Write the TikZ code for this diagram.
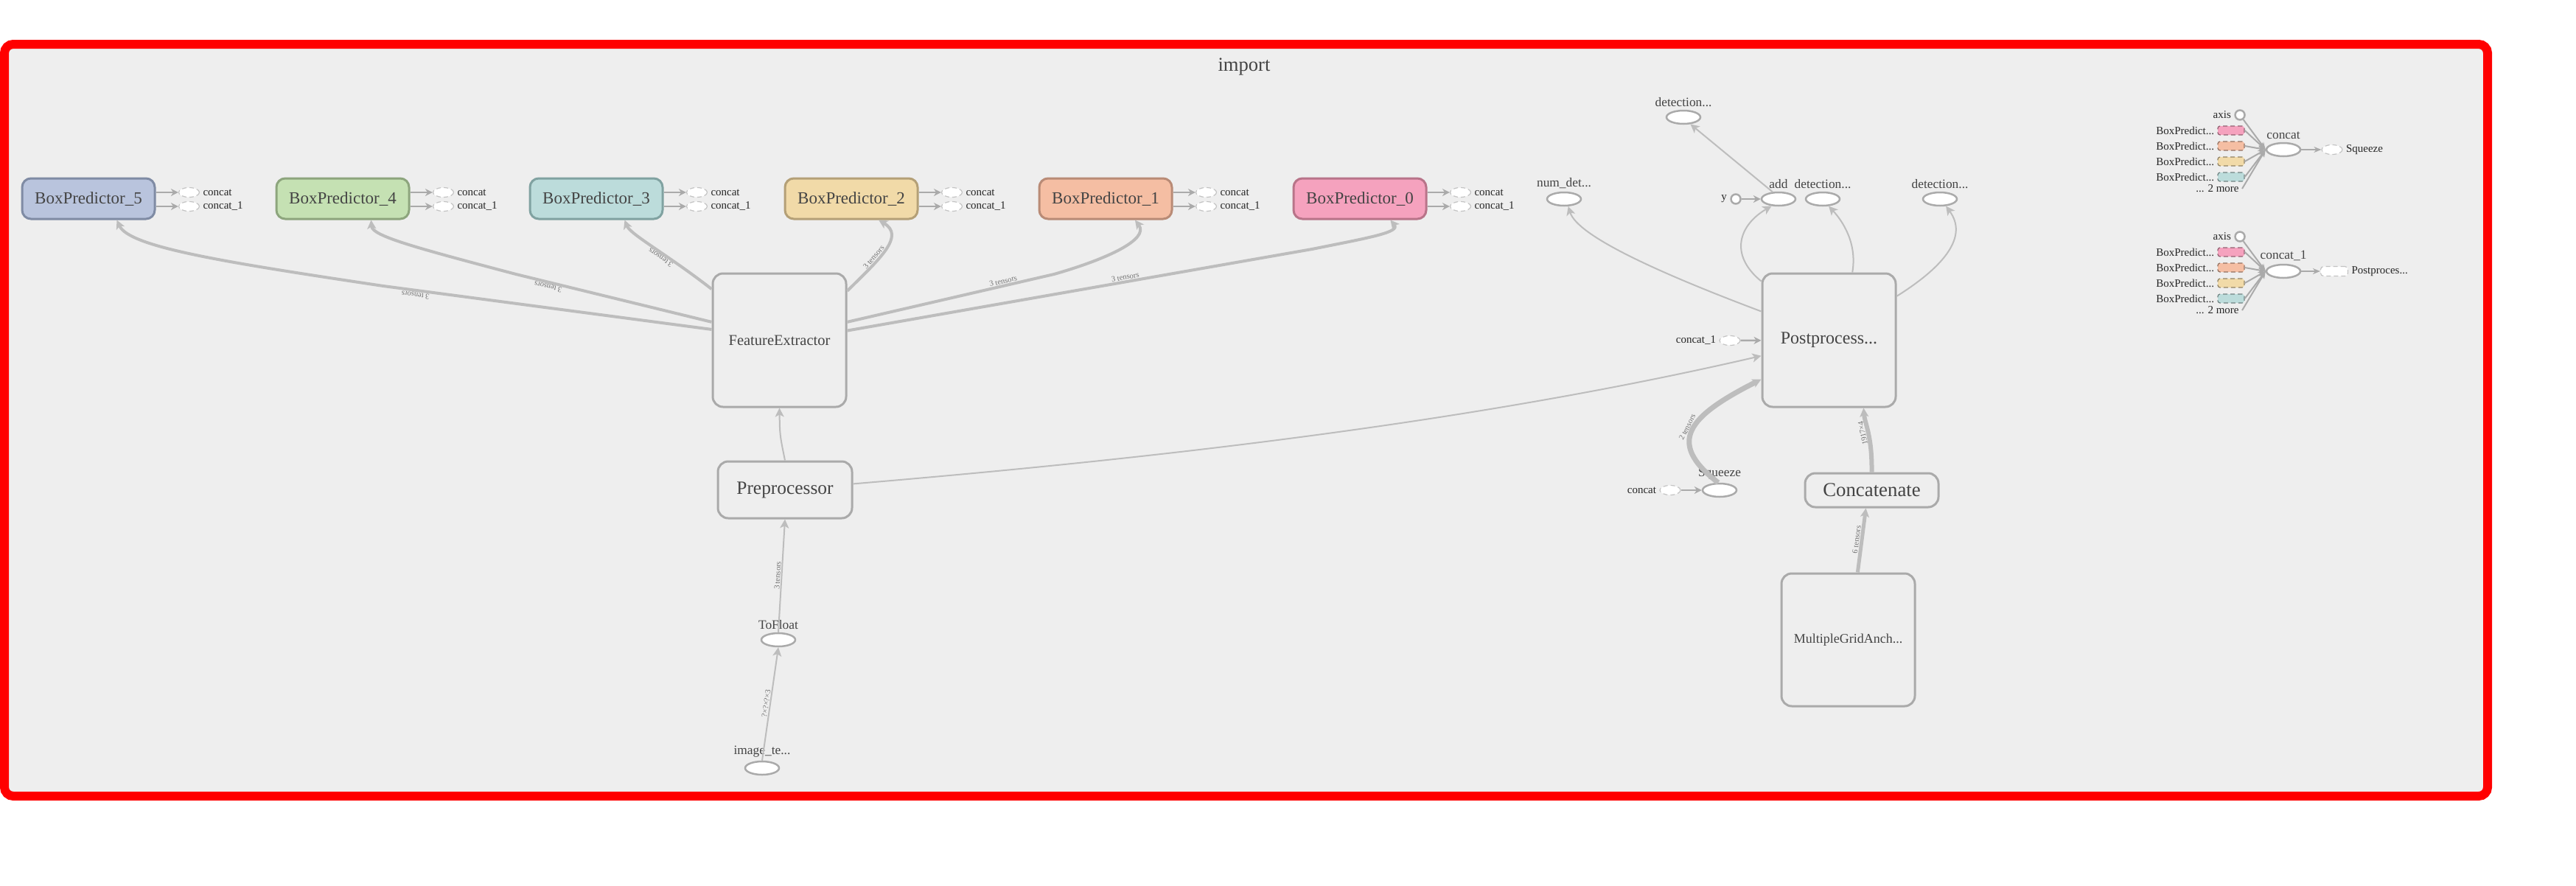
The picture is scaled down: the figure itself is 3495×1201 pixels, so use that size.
\documentclass[tikz,border=0pt]{standalone}
\usepackage{fontspec}
\setmainfont{Liberation Serif}
\usepackage{xcolor}
\usepackage{tikz}
\usetikzlibrary{calc, arrows.meta, shapes.geometric}
\definecolor{frameRed}{HTML}{FF0000}
\definecolor{panelGray}{HTML}{EEEEEE}
\definecolor{boxLine}{HTML}{AAAAAA}
\definecolor{edgeGray}{HTML}{BDBDBD}
\definecolor{labelGray}{HTML}{444444}
\definecolor{bp5Fill}{HTML}{B9C4DD}
\definecolor{bp5Line}{HTML}{7F8BA4}
\definecolor{bp4Fill}{HTML}{C5E1B3}
\definecolor{bp4Line}{HTML}{8DA57D}
\definecolor{bp3Fill}{HTML}{BCDCDB}
\definecolor{bp3Line}{HTML}{80A2A1}
\definecolor{bp2Fill}{HTML}{F1DAA8}
\definecolor{bp2Line}{HTML}{B4A077}
\definecolor{bp1Fill}{HTML}{F5BEA3}
\definecolor{bp1Line}{HTML}{B98B76}
\definecolor{bp0Fill}{HTML}{F5A2BE}
\definecolor{bp0Line}{HTML}{B87489}

\begin{document}
\begin{tikzpicture}[x=0.5pt, y=-0.5pt,
    box/.style={draw=boxLine, line width=1.5pt, fill=panelGray, rounded corners=7pt, text=labelGray, inner sep=2pt},
    bpbox/.style={box, rounded corners=6pt, minimum width=90pt, minimum height=27.5pt, font=\fontsize{11.5}{13}\selectfont},
    op/.style={ellipse, draw=boxLine, line width=1.25pt, fill=white, minimum width=23pt, minimum height=9pt, inner sep=0pt, label distance=1.5pt},
    port/.style={circle, draw=boxLine, line width=1.25pt, fill=white, minimum size=6.5pt, inner sep=0pt},
    stub/.style={ellipse, draw=boxLine!70, densely dashed, line width=0.6pt, fill=white, minimum width=14pt, minimum height=6.5pt, inner sep=0pt},
    stubrect/.style={stub, rectangle, rounded corners=2pt, minimum width=18.5pt},
    inrect/.style={rectangle, rounded corners=1.5pt, densely dashed, line width=0.6pt, minimum width=18pt, minimum height=6pt, inner sep=0pt},
    optxt/.style={font=\fontsize{8.7}{10}\selectfont, text=labelGray, inner sep=2pt},
    smalltxt/.style={font=\fontsize{7.5}{9}\selectfont, text=black!85, inner sep=2pt},
    thinedge/.style={draw=edgeGray, line width=1pt, -{Stealth[length=6pt, width=6pt, inset=1.5pt]}},
    thickedge/.style={thinedge, line width=2pt},
    stubedge/.style={draw=boxLine, line width=1.25pt, -{Stealth[length=5pt, width=5pt]}},
    paneledge/.style={draw=boxLine, line width=1pt, -{Stealth[length=5pt, width=4pt]}},
    elabel/.style={font=\fontsize{5.3}{6}\selectfont, text=black!55, sloped, allow upside down, above, inner sep=0.5pt}]
    \useasboundingbox (0,0) rectangle (3495,1201);
    \fill[white] (0,0) rectangle (3495,1201);
    \draw[frameRed, line width=6pt, fill=panelGray, rounded corners=6pt] (6,60) rectangle (3375,1080);
    \node[font=\fontsize{13.3}{15}\selectfont, text=labelGray] (title) at (1688,91) {import};

    % box predictors
    \node[bpbox, fill=bp5Fill, draw=bp5Line] (bp5) at (120,269.5) {BoxPredictor\_5};
    \node[bpbox, fill=bp4Fill, draw=bp4Line] (bp4) at (465,269.5) {BoxPredictor\_4};
    \node[bpbox, fill=bp3Fill, draw=bp3Line] (bp3) at (809,269.5) {BoxPredictor\_3};
    \node[bpbox, fill=bp2Fill, draw=bp2Line] (bp2) at (1155,269.5) {BoxPredictor\_2};
    \node[bpbox, fill=bp1Fill, draw=bp1Line] (bp1) at (1500,269.5) {BoxPredictor\_1};
    \node[bpbox, fill=bp0Fill, draw=bp0Line] (bp0) at (1845,269.5) {BoxPredictor\_0};
    \foreach \i in {0,...,5}{
        \node[stub, label={[smalltxt]right:concat}] (cat\i) at ($(bp\i.east)+(45,-8.5)$) {};
        \node[stub, label={[smalltxt]right:concat\_1}] (catb\i) at ($(bp\i.east)+(45,10.5)$) {};
        \draw[stubedge] (bp\i.east |- cat\i) -- (cat\i);
        \draw[stubedge] (bp\i.east |- catb\i) -- (catb\i);
    }

    % main chain
    \node[box, minimum width=90.5pt, minimum height=90.5pt, font=\fontsize{10.25}{12}\selectfont] (fe) at (1057.5,461.5) {FeatureExtractor};
    \node[box, minimum width=91pt, minimum height=38.5pt, font=\fontsize{12.7}{14}\selectfont] (pre) at (1065,664.5) {Preprocessor};
    \node[op, label={[optxt]above:ToFloat}] (tf) at (1056,868) {};
    \node[op, label={[optxt]above:image\_te...}] (img) at (1034,1042) {};
    \node[box, minimum width=90.5pt, minimum height=90.5pt, font=\fontsize{12}{14}\selectfont] (post) at (2481.5,461.5) {Postprocess...};
    \node[box, minimum width=90.5pt, minimum height=23pt, font=\fontsize{13.4}{15}\selectfont] (cat) at (2539.5,665) {Concatenate};
    \node[box, minimum width=90.5pt, minimum height=90pt, font=\fontsize{9}{11}\selectfont] (mga) at (2507.5,868) {MultipleGridAnch...};
    \node[op, label={[optxt]above:Squeeze}] (sq) at (2333,665) {};
    \node[stub, label={[smalltxt]left:concat}] (sqc) at (2266,665) {};
    \node[stub, label={[smalltxt]left:concat\_1}] (pc1) at (2347,462) {};

    % outputs
    \node[op, label={[optxt]above:num\_det...}] (nd) at (2122,270) {};
    \node[op, label={[optxt]above:detection...}] (dt) at (2284,159) {};
    \node[op, label={[optxt]above:add}] (add) at (2413,270) {};
    \node[port, label={[smalltxt]left:y}] (yc) at (2355,270) {};
    \node[op, label={[optxt]above:detection...}] (dm) at (2473,270) {};
    \node[op, label={[optxt]above:detection...}] (dr) at (2632,270) {};

    \draw[thickedge] (fe.171) -- node[elabel, pos=0.9] {3 tensors} (520,388) .. controls (300,355) and (175,335) .. (bp5.-37);
    \draw[thickedge] (fe.165) -- node[elabel, pos=0.83] {3 tensors} (700,372) .. controls (560,335) and (505,320) .. (bp4.-37);
    \draw[thickedge] (fe.143) .. controls (905,345) and (855,318) .. node[elabel, pos=0.4] {3 tensors} (bp3.-37);
    \draw[thickedge] (fe.36) .. controls (1195,350) and (1228,320) .. node[elabel, pos=0.35] {3 tensors} (bp2.-38);
    \draw[thickedge] (fe.15) -- node[elabel, pos=0.76] {3 tensors} (1430,372) .. controls (1500,352) and (1560,325) .. (bp1.-36);
    \draw[thickedge] (fe.8) -- node[elabel, pos=0.6] {3 tensors} (1780,338) .. controls (1860,322) and (1900,315) .. (bp0.-35);
    \draw[thinedge] (pre.north) .. controls (1058,590) .. (fe.south);
    \draw[thinedge] (pre.5) .. controls (1556,623) and (1991,575) .. (post.193);
    \draw[thinedge] (tf.north) -- node[elabel] {3 tensors} (pre.south);
    \draw[thinedge] (img.north) -- node[elabel] {?×?×?×3} (tf.south);
    \draw[thinedge] (post.157) .. controls (2250,370) and (2140,320) .. (nd.-60);
    \draw[thinedge] (post.139) .. controls (2345,345) and (2360,305) .. (add.-135);
    \draw[thinedge] (post.71) .. controls (2520,330) and (2500,300) .. (dm.-50);
    \draw[thinedge] (post.33) .. controls (2640,360) and (2670,320) .. (dr.-50);
    \draw[thinedge] (add.130) -- (dt.-45);
    \draw[stubedge] (yc) -- (add);
    \draw[stubedge] (pc1) -- (post);
    \draw[stubedge] (sqc) -- (sq);
    \draw[thickedge, line width=3.5pt] (sq.100) .. controls (2260,600) and (2290,565) .. node[elabel] {2 tensors} (post.210);
    \draw[thickedge, line width=3pt] (cat.north) .. controls (2540,590) and (2530,575) .. node[elabel] {1917×4} (post.-63);
    \draw[thickedge, line width=2.5pt] (mga.82) -- node[elabel] {6 tensors} (cat.-108);

    % concat panels
    \node[op, label={[optxt]above:concat}] (concatA) at (3098,203) {};
    \node[stub, label={[smalltxt]right:Squeeze}] (outA) at (3164,203) {};
    \node[port, label={[smalltxt]left:axis}] (axA) at (3039,156) {};
    \node[smalltxt, anchor=east] (moreA) at (3042,256) {... 2 more};
    \foreach \col [count=\k] in {bp0Fill,bp1Fill,bp2Fill,bp3Fill}{
        \node[inrect, fill=\col, draw=\col!60!black, label={[smalltxt]left:BoxPredict...}] (inA\k) at (3027,{156+21*\k}) {};
        \draw[paneledge] (inA\k.east) -- (concatA.west);
    }
    \draw[paneledge] (axA) -- (concatA.west);
    \draw[paneledge] (moreA.east) -- (concatA.west);
    \draw[paneledge] (concatA) -- (outA);

    \node[op, label={[optxt]above:concat\_1}] (concatB) at (3098,368) {};
    \node[stubrect, label={[smalltxt]right:Postproces...}] (outB) at (3167,368) {};
    \node[port, label={[smalltxt]left:axis}] (axB) at (3039,321) {};
    \node[smalltxt, anchor=east] (moreB) at (3042,421) {... 2 more};
    \foreach \col [count=\k] in {bp0Fill,bp1Fill,bp2Fill,bp3Fill}{
        \node[inrect, fill=\col, draw=\col!60!black, label={[smalltxt]left:BoxPredict...}] (inB\k) at (3027,{321+21*\k}) {};
        \draw[paneledge] (inB\k.east) -- (concatB.west);
    }
    \draw[paneledge] (axB) -- (concatB.west);
    \draw[paneledge] (moreB.east) -- (concatB.west);
    \draw[paneledge] (concatB) -- (outB);
\end{tikzpicture}
\end{document}
